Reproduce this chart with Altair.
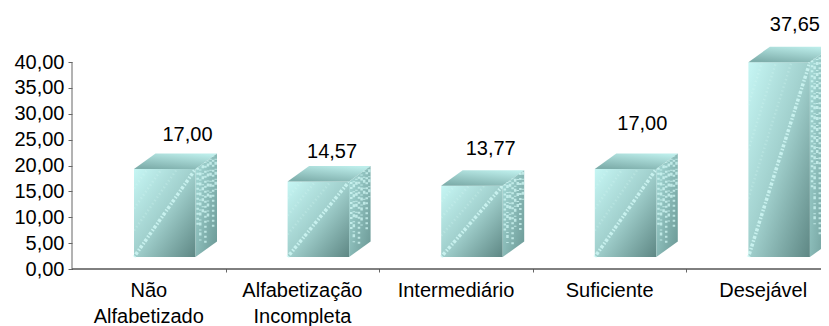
import altair as alt
import pandas as pd

categories = ["Não\nAlfabetizado", "Alfabetização\nIncompleta", "Intermediário", "Suficiente", "Desejável"]
values = [17.00, 14.57, 13.77, 17.00, 37.65]
y_ticks = [0, 5, 10, 15, 20, 25, 30, 35, 40]
x_ticks = [1, 2, 3, 4]

# layout (in axis units / pixels)
PX_X, PX_Y = 153.6, 5.175
W, H = 749, 259
FLOOR = 12 / PX_Y
F_OFF, F_W = 62 / PX_X, 61.5 / PX_X
DX, DY = 21.5 / PX_X, 15.5 / PX_Y
LABEL_LIFT = [19, 14, 21, 30, 22]
LABEL_SHIFT = [12, 3, 8, 6, 5]
FONT = "Liberation Sans"
FS = 20

xs = alt.Scale(domain=[0, W / PX_X], nice=False, zero=False)
ys = alt.Scale(domain=[0, H / PX_Y], nice=False, zero=False)
x_axis = alt.Axis(values=x_ticks, labels=False, grid=False, domain=False,
                  ticks=True, tickSize=3, tickColor="#666666")
y_axis = alt.Axis(values=y_ticks, grid=False, domain=False, ticks=True, tickSize=4,
                  tickColor="#666666", labelFont=FONT, labelFontSize=FS,
                  labelColor="#000000", labelPadding=4, labelOverlap=False,
                  labelExpr="replace(format(datum.value,'.2f'),'.',',')")
X = alt.X("x:Q", scale=xs, title=None, axis=x_axis)
Y = alt.Y("y:Q", scale=ys, title=None, axis=y_axis)

SPECK_FRACS = [0.1, 0.22, 0.34, 0.46, 0.58, 0.7, 0.82, 0.94]
SPECK_LOW = [0.35, 0.15, 0.45, 0.08, 0.3, 0.55, 0.2, 0.6]

front, top, side, streak, speck, labels, cats = [], [], [], [], [], [], []
for i, (c, v) in enumerate(zip(categories, values)):
    f0 = i + F_OFF
    f1 = f0 + F_W
    b = FLOOR
    t = FLOOR + v
    front.append({"x": f0, "x2": f1, "y": b, "y2": t})
    top += [
        {"id": i, "x": f0, "y": t, "y2": t},
        {"id": i, "x": f0 + DX, "y": t + DY, "y2": t},
        {"id": i, "x": f1, "y": t + DY, "y2": t},
        {"id": i, "x": f1 + DX, "y": t + DY, "y2": t + DY},
    ]
    side += [
        {"id": i, "x": f1, "y": t, "y2": b},
        {"id": i, "x": f1 + DX, "y": t + DY, "y2": b + DY},
    ]
    # main diagonal streak and fainter parallels above it
    streak += [
        {"id": f"{i}m", "kind": "a", "x": f0, "y": b},
        {"id": f"{i}m", "kind": "a", "x": f1, "y": t},
    ]
    for k, (frac_y, frac_x) in enumerate([(0.3, 0.7), (0.55, 0.45), (0.78, 0.22)]):
        streak += [
            {"id": f"{i}{k}", "kind": "b", "x": f0, "y": b + (t - b) * frac_y},
            {"id": f"{i}{k}", "kind": "b", "x": f0 + F_W * frac_x, "y": t},
        ]
    for k, fr in enumerate(SPECK_FRACS):
        speck += [
            {"id": f"{i}{k}", "g": k % 3, "x": f1 + DX * fr, "y": b + DY * fr + (t - b) * SPECK_LOW[k]},
            {"id": f"{i}{k}", "g": k % 3, "x": f1 + DX * fr, "y": t + DY * fr},
        ]
    labels.append({"x": f0 + 0.5 * (F_W + DX) + LABEL_SHIFT[i] / PX_X,
                   "y": t + DY + LABEL_LIFT[i] / PX_Y,
                   "t": f"{v:.2f}".replace(".", ",")})
    cats.append({"x": i + 0.5, "y": 0, "t": c})

front_m = alt.Chart(pd.DataFrame(front)).mark_rect(
    clip=True,
    color=alt.Gradient(gradient="linear", x1=0, y1=0, x2=1, y2=1, stops=[
        alt.GradientStop(offset=0, color="#c6f6f4"),
        alt.GradientStop(offset=0.5, color="#a0cfcc"),
        alt.GradientStop(offset=1, color="#5e8784")]),
).encode(x=X, x2="x2:Q", y=Y, y2="y2:Q")

top_m = alt.Chart(pd.DataFrame(top)).mark_area(
    clip=True,
    color=alt.Gradient(gradient="linear", x1=0.8, y1=0, x2=0.3, y2=1, stops=[
        alt.GradientStop(offset=0, color="#bdeeeb"),
        alt.GradientStop(offset=1, color="#7fafac")]),
).encode(x=X, y=Y, y2="y2:Q", detail="id:N")

side_m = alt.Chart(pd.DataFrame(side)).mark_area(
    clip=True,
    color=alt.Gradient(gradient="linear", x1=0, y1=0, x2=1, y2=1, stops=[
        alt.GradientStop(offset=0, color="#a8dcd9"),
        alt.GradientStop(offset=1, color="#6a9794")]),
).encode(x=X, y=Y, y2="y2:Q", detail="id:N")

sdf = pd.DataFrame(streak)
streak_a = alt.Chart(sdf[sdf.kind == "a"]).mark_line(
    clip=True, color="#d5fcf9", opacity=0.75, strokeWidth=3.5, strokeDash=[1.5, 1.5, 3, 2]
).encode(x=X, y=Y, detail="id:N")
streak_b = alt.Chart(sdf[sdf.kind == "b"]).mark_line(
    clip=True, color="#e0fffc", opacity=0.22, strokeWidth=2.5, strokeDash=[1.5, 2.5]
).encode(x=X, y=Y, detail="id:N")

spdf = pd.DataFrame(speck)
speck_layers = [
    alt.Chart(spdf[spdf.g == g]).mark_line(
        clip=True, color="#d5fcf9", opacity=0.7, strokeWidth=2.5, strokeDash=dash
    ).encode(x=X, y=Y, detail="id:N")
    for g, dash in enumerate([[2, 3], [1, 4, 3, 2], [3, 2, 1, 5]])
]

axis_base = alt.Chart(pd.DataFrame({"x": [0, W / PX_X], "y": [0, 0]})).mark_line(
    color="#000000", strokeWidth=1).encode(x=X, y=Y)
y_rule = alt.Chart(pd.DataFrame({"x": [0, 0], "y": [0, 40]})).mark_line(
    color="#666666", strokeWidth=1).encode(x=X, y=Y)

val_text = alt.Chart(pd.DataFrame(labels)).mark_text(
    font=FONT, fontSize=FS, color="#000000", baseline="middle", align="center"
).encode(x=X, y=Y, text="t:N")

cat_text = alt.Chart(pd.DataFrame(cats)).mark_text(
    font=FONT, fontSize=FS, color="#000000", baseline="top", align="center",
    lineBreak="\n", lineHeight=26, dy=12
).encode(x=X, y=Y, text="t:N")

chart = alt.layer(
    axis_base, y_rule, front_m, streak_b, streak_a, top_m, side_m, *speck_layers, val_text, cat_text
).properties(
    width=W, height=H,
    padding={"left": 64, "top": 2, "right": 0, "bottom": 57},
    autosize=alt.AutoSizeParams(type="none"),
).configure_view(stroke=None)

chart.save("out.html", embed_options={"renderer": "svg", "actions": False})
